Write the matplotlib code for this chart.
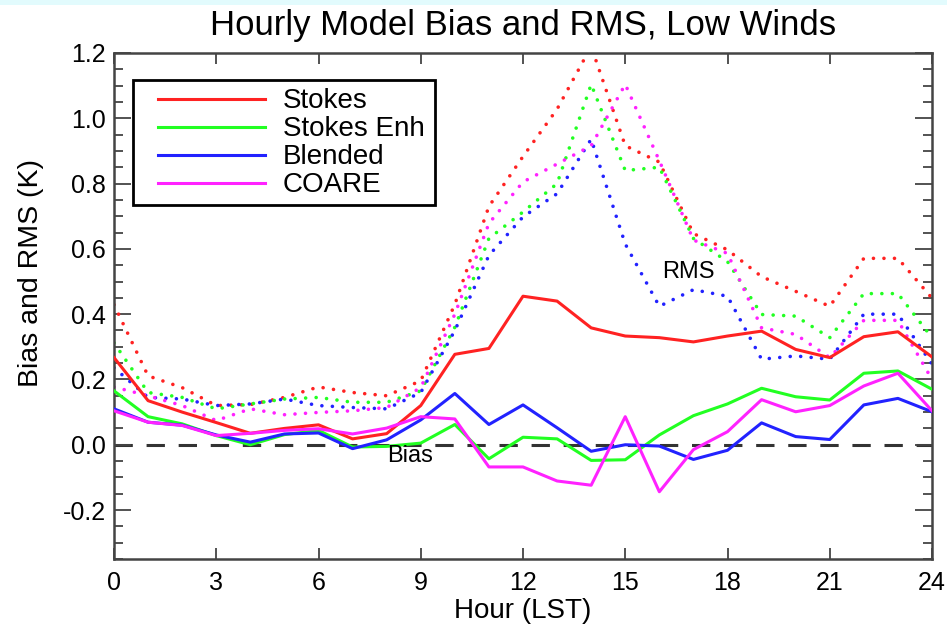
import matplotlib
matplotlib.use("Agg")
import matplotlib.pyplot as plt
from matplotlib.ticker import MultipleLocator
from matplotlib.patches import Rectangle

hours = list(range(25))

stokes_bias = [0.267, 0.135, 0.10, 0.068, 0.035, 0.05, 0.061, 0.018, 0.034, 0.12, 0.277, 0.295, 0.455, 0.44,
               0.358, 0.333, 0.328, 0.315, 0.333, 0.348, 0.292, 0.267, 0.331, 0.346, 0.269]
enh_bias = [0.165, 0.086, 0.064, 0.028, 0.0, 0.031, 0.044, -0.007, -0.005, 0.005, 0.062, -0.043, 0.023, 0.018,
            -0.048, -0.046, 0.03, 0.089, 0.125, 0.173, 0.147, 0.137, 0.219, 0.226, 0.17]
blend_bias = [0.11, 0.069, 0.06, 0.03, 0.008, 0.033, 0.036, -0.012, 0.015, 0.076, 0.157, 0.062, 0.122, 0.052,
              -0.02, 0.0, -0.004, -0.045, -0.017, 0.067, 0.025, 0.016, 0.122, 0.142, 0.101]
coare_bias = [0.104, 0.069, 0.059, 0.028, 0.035, 0.044, 0.049, 0.033, 0.051, 0.086, 0.079, -0.068, -0.068, -0.111,
              -0.124, 0.086, -0.144, -0.015, 0.04, 0.138, 0.101, 0.12, 0.18, 0.219, 0.104]

stokes_rms = [0.429, 0.211, 0.175, 0.12, 0.123, 0.145, 0.177, 0.16, 0.15, 0.196, 0.43, 0.73, 0.883, 1.028,
              1.22, 0.916, 0.866, 0.647, 0.597, 0.515, 0.47, 0.424, 0.571, 0.571, 0.449]
enh_rms = [0.312, 0.16, 0.145, 0.11, 0.125, 0.14, 0.145, 0.13, 0.13, 0.165, 0.36, 0.632, 0.713, 0.80,
           1.104, 0.84, 0.85, 0.632, 0.561, 0.399, 0.394, 0.328, 0.463, 0.463, 0.328]
blend_rms = [0.236, 0.145, 0.14, 0.12, 0.125, 0.14, 0.12, 0.114, 0.11, 0.16, 0.35, 0.58, 0.698, 0.769,
             0.936, 0.615, 0.424, 0.475, 0.455, 0.262, 0.272, 0.262, 0.40, 0.40, 0.247]
coare_rms = [0.177, 0.15, 0.12, 0.074, 0.11, 0.092, 0.099, 0.104, 0.114, 0.175, 0.40, 0.678, 0.805, 0.86,
             0.916, 1.104, 0.87, 0.627, 0.586, 0.358, 0.338, 0.267, 0.381, 0.381, 0.2]

labels = ["Stokes", "Stokes Enh", "Blended", "COARE"]
colors = ["#ff2222", "#22ff22", "#2222ff", "#ff22ff"]
xticks = [0, 3, 6, 9, 12, 15, 18, 21, 24]

plt.rcParams['font.family'] = ['Liberation Sans', 'DejaVu Sans']

fig = plt.figure(figsize=(9.47, 6.29), dpi=100)
fig.patches.append(Rectangle((0, 1 - 5 / 629), 1, 5 / 629, transform=fig.transFigure,
                             facecolor="#e2fbfd", edgecolor="none"))
ax = fig.add_axes([114 / 947, 1 - 559 / 629, 818 / 947, 506 / 629])

ax.axhline(0, color="#333333", lw=2.2, linestyle=(0, (6, 4.5)), zorder=1)

for r, c in zip([stokes_rms, enh_rms, blend_rms, coare_rms], colors):
    ax.plot(hours, r, color=c, lw=2.6, linestyle=(0, (0.01, 2.9)), dash_capstyle="round", zorder=2)
for b, lab, c in zip([stokes_bias, enh_bias, blend_bias, coare_bias], labels, colors):
    ax.plot(hours, b, color=c, lw=2.2, label=lab, zorder=3)

ax.set_xlim(0, 24)
ax.set_ylim(-0.35, 1.2)
ax.set_xticks(xticks)
ax.yaxis.set_minor_locator(MultipleLocator(0.05))
ax.set_yticks([-0.2, 0.0, 0.2, 0.4, 0.6, 0.8, 1.0, 1.2])
ax.set_yticklabels(["-0.2", "0.0", "0.2", "0.4", "0.6", "0.8", "1.0", "1.2"])
ax.tick_params(axis="x", which="major", direction="in", length=8, width=1.3, top=True, bottom=True,
               labelsize=18, pad=9, colors="#444444", labelcolor="black")
ax.tick_params(axis="y", which="major", direction="in", length=12.5, width=1.3, left=True, right=True,
               labelsize=18, pad=6, colors="#444444", labelcolor="black")
ax.tick_params(axis="y", which="minor", direction="in", length=6.5, width=1.3, left=True, right=True,
               colors="#444444")
for s in ax.spines.values():
    s.set_linewidth(1.8)
    s.set_color("#444444")

ax.set_title("Hourly Model Bias and RMS, Low Winds", fontsize=25, pad=13)
ax.set_xlabel("Hour (LST)", fontsize=20, labelpad=2)
ax.set_ylabel("Bias and RMS (K)", fontsize=20.5)
ax.yaxis.set_label_coords(-0.086, 0.565)

ax.text(16.85, 0.53, "RMS", fontsize=17, ha="center", va="center")
ax.text(8.7, -0.035, "Bias", fontsize=17, ha="center", va="center")

# legend frame
ax.add_patch(Rectangle((0.0232, 0.6996), 0.3692, 0.247, transform=ax.transAxes, facecolor="white",
                       edgecolor="black", lw=2, zorder=4))
leg = ax.legend(loc="upper left", bbox_to_anchor=(0.0538, 0.930), fontsize=20, frameon=False,
                handlelength=3.85, handletextpad=0.65, labelspacing=0.07,
                borderpad=0, borderaxespad=0)
leg.set_zorder(5)
for l in leg.get_lines():
    l.set_linewidth(2.2)

fig.savefig("out.png", dpi=100)
